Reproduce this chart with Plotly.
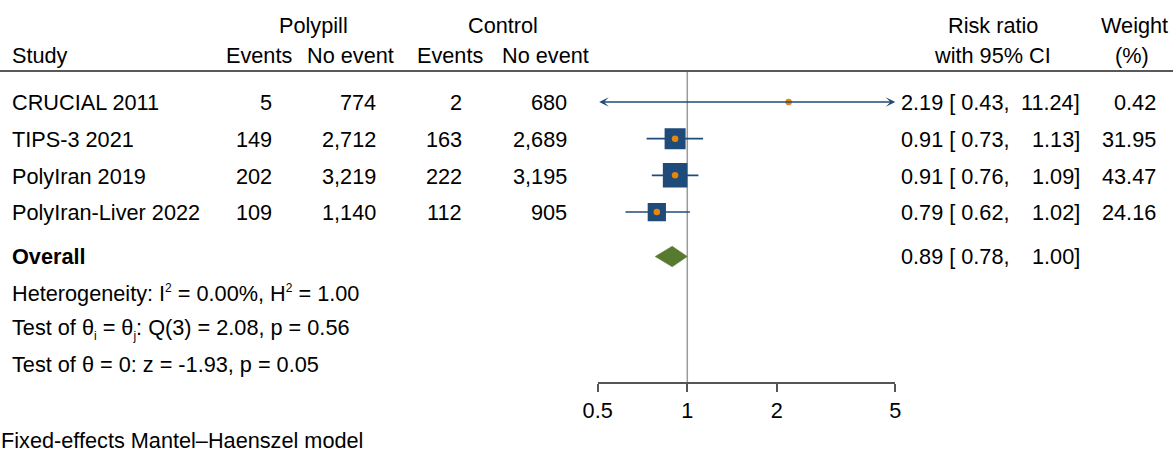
import math
import plotly.graph_objects as go

# ---------------- data ----------------
studies = ["CRUCIAL 2011", "TIPS-3 2021", "PolyIran 2019", "PolyIran-Liver 2022"]
pp_events = [5, 149, 202, 109]
pp_noevent = [774, 2712, 3219, 1140]
ct_events = [2, 163, 222, 112]
ct_noevent = [680, 2689, 3195, 905]
rr = [2.19, 0.91, 0.91, 0.79]
rr_lo = [0.43, 0.73, 0.76, 0.62]
rr_hi = [11.24, 1.13, 1.09, 1.02]
weights = [0.42, 31.95, 43.47, 24.16]
overall_rr = 0.89
overall_lo = 0.78
overall_hi = 1.00
tick_vals = [0.5, 1, 2, 5]
tick_text = ["0.5", "1", "2", "5"]
SUPSTY = '<span style="font-size:12px">'
het_lines = [
    f"Heterogeneity: I<sup>{SUPSTY}2</span></sup> = 0.00%, H<sup>{SUPSTY}2</span></sup> = 1.00",
    f"Test of θ<sub>{SUPSTY}i</span></sub> = θ<sub>{SUPSTY}j</span></sub>: Q(3) = 2.08, p = 0.56",
    "Test of θ = 0: z = -1.93, p = 0.05",
]
footnote = "Fixed-effects Mantel–Haenszel model"

# ---------------- layout constants ----------------
W, H = 1173, 452
FONT = "Liberation Sans, Arial, sans-serif"
FS = 21.7
NAVY = "#1F4B7A"
ORANGE = "#E8850C"
GREEN = "#567A2E"
x_min, x_max = 0.5, 5
ROW0, ROWH = 102.0, 36.67  # pixel of row 0 and row spacing


def py(pix):  # pixel y -> row units
    return (pix - ROW0) / ROWH


def px(pix):  # pixel x -> paper
    return pix / W


rows = list(range(len(studies)))
overall_row = py(256.5)
het_rows = [py(293), py(328.5), py(364.5)]

fig = go.Figure()

# reference line at 1
fig.add_trace(go.Scatter(x=[1, 1], y=[py(72), py(383)], mode="lines",
                         line=dict(color="#9a9a9a", width=1.5), hoverinfo="skip"))

# CI lines (clamped to axis range) + arrows when clipped
for r, lo, hi in zip(rows, rr_lo, rr_hi):
    lo_c, hi_c = max(lo, x_min), min(hi, x_max)
    if lo < x_min and hi > x_max:
        fig.add_annotation(x=math.log10(hi_c), y=r, ax=math.log10(lo_c), ay=r,
                           xref="x", yref="y", axref="x", ayref="y", text="",
                           showarrow=True, arrowside="end+start", arrowhead=3,
                           arrowsize=1, arrowwidth=1.6, arrowcolor=NAVY, standoff=0,
                           startstandoff=0)
    else:
        fig.add_trace(go.Scatter(x=[lo_c, hi_c], y=[r, r], mode="lines",
                                 line=dict(color=NAVY, width=1.6), hoverinfo="skip"))

# weight boxes
box_scale = 21 / math.sqrt(31.95)
fig.add_trace(go.Scatter(x=rr, y=rows, mode="markers",
                         marker=dict(symbol="square", color=NAVY, opacity=1,
                                     size=[box_scale * math.sqrt(w) for w in weights],
                                     line=dict(width=0)),
                         hoverinfo="skip"))
# point estimates
fig.add_trace(go.Scatter(x=rr, y=rows, mode="markers",
                         marker=dict(symbol="circle", color=ORANGE, size=6.5, opacity=1,
                                     line=dict(width=0)),
                         hoverinfo="skip"))

# overall diamond
hd = 10.3 / ROWH
fig.add_trace(go.Scatter(x=[overall_lo, overall_rr, overall_hi, overall_rr, overall_lo],
                         y=[overall_row, overall_row - hd, overall_row, overall_row + hd, overall_row],
                         mode="lines", fill="toself", fillcolor=GREEN,
                         line=dict(color=GREEN, width=0.5), hoverinfo="skip"))


def txt(x, y, s, anchor="left", bold=False):
    if bold:
        s = "<b>" + s + "</b>"
    fig.add_annotation(x=px(x), y=y, xref="paper", yref="y", text=s, showarrow=False,
                       xanchor=anchor, yanchor="middle", borderpad=0,
                       font=dict(family=FONT, size=FS, color="black"))


# headers
hr1, hr2 = py(25.5), py(55.5)
txt(313, hr1, "Polypill", "center")
txt(503, hr1, "Control", "center")
txt(993, hr1, "Risk ratio", "center")
txt(1134, hr1, "Weight", "center")
txt(11, hr2, "Study")
txt(259, hr2, "Events", "center")
txt(350, hr2, "No event", "center")
txt(449.5, hr2, "Events", "center")
txt(545, hr2, "No event", "center")
txt(992, hr2, "with 95% CI", "center")
txt(1132, hr2, "(%)", "center")

# study rows
for r, s, a, b, c, d, e, lo, hi, w in zip(rows, studies, pp_events, pp_noevent, ct_events,
                                          ct_noevent, rr, rr_lo, rr_hi, weights):
    txt(11, r + 0.02, s)
    txt(273, r + 0.02, f"{a:,}", "right")
    txt(377, r + 0.02, f"{b:,}", "right")
    txt(463, r + 0.02, f"{c:,}", "right")
    txt(568, r + 0.02, f"{d:,}", "right")
    txt(900, r + 0.02, f"{e:.2f} [ {lo:.2f},")
    txt(1081, r + 0.02, f"{hi:.2f}]", "right")
    txt(1157, r + 0.02, f"{w:.2f}", "right")

# overall row
txt(11, overall_row, "Overall", bold=True)
txt(900, overall_row, f"{overall_rr:.2f} [ {overall_lo:.2f},")
txt(1081, overall_row, f"{overall_hi:.2f}]", "right")

for yy, s in zip(het_rows, het_lines):
    txt(11, yy, s)
txt(0, py(440), footnote)

# header rule
fig.add_shape(type="line", xref="paper", yref="paper", x0=0, x1=1,
              y0=1 - 71 / H, y1=1 - 71 / H, line=dict(color="#222222", width=1.6))

fig.update_layout(
    width=W, height=H, margin=dict(l=0, r=0, t=0, b=0, autoexpand=False),
    paper_bgcolor="white", plot_bgcolor="white", showlegend=False,
    xaxis=dict(type="log", domain=[597.7 / W, 895.3 / W],
               range=[math.log10(x_min), math.log10(x_max)],
               tickvals=tick_vals, ticktext=tick_text, anchor="free", position=68.7 / H,
               showline=True, linecolor="#555555", linewidth=1.5,
               ticks="outside", ticklen=8, tickwidth=1.5, tickcolor="#555555",
               tickfont=dict(family=FONT, size=FS, color="black"),
               showgrid=False, zeroline=False),
    yaxis=dict(domain=[0, 1], range=[py(H), py(0)], visible=False,
               showgrid=False, zeroline=False),
)

fig.write_html("out.html")
